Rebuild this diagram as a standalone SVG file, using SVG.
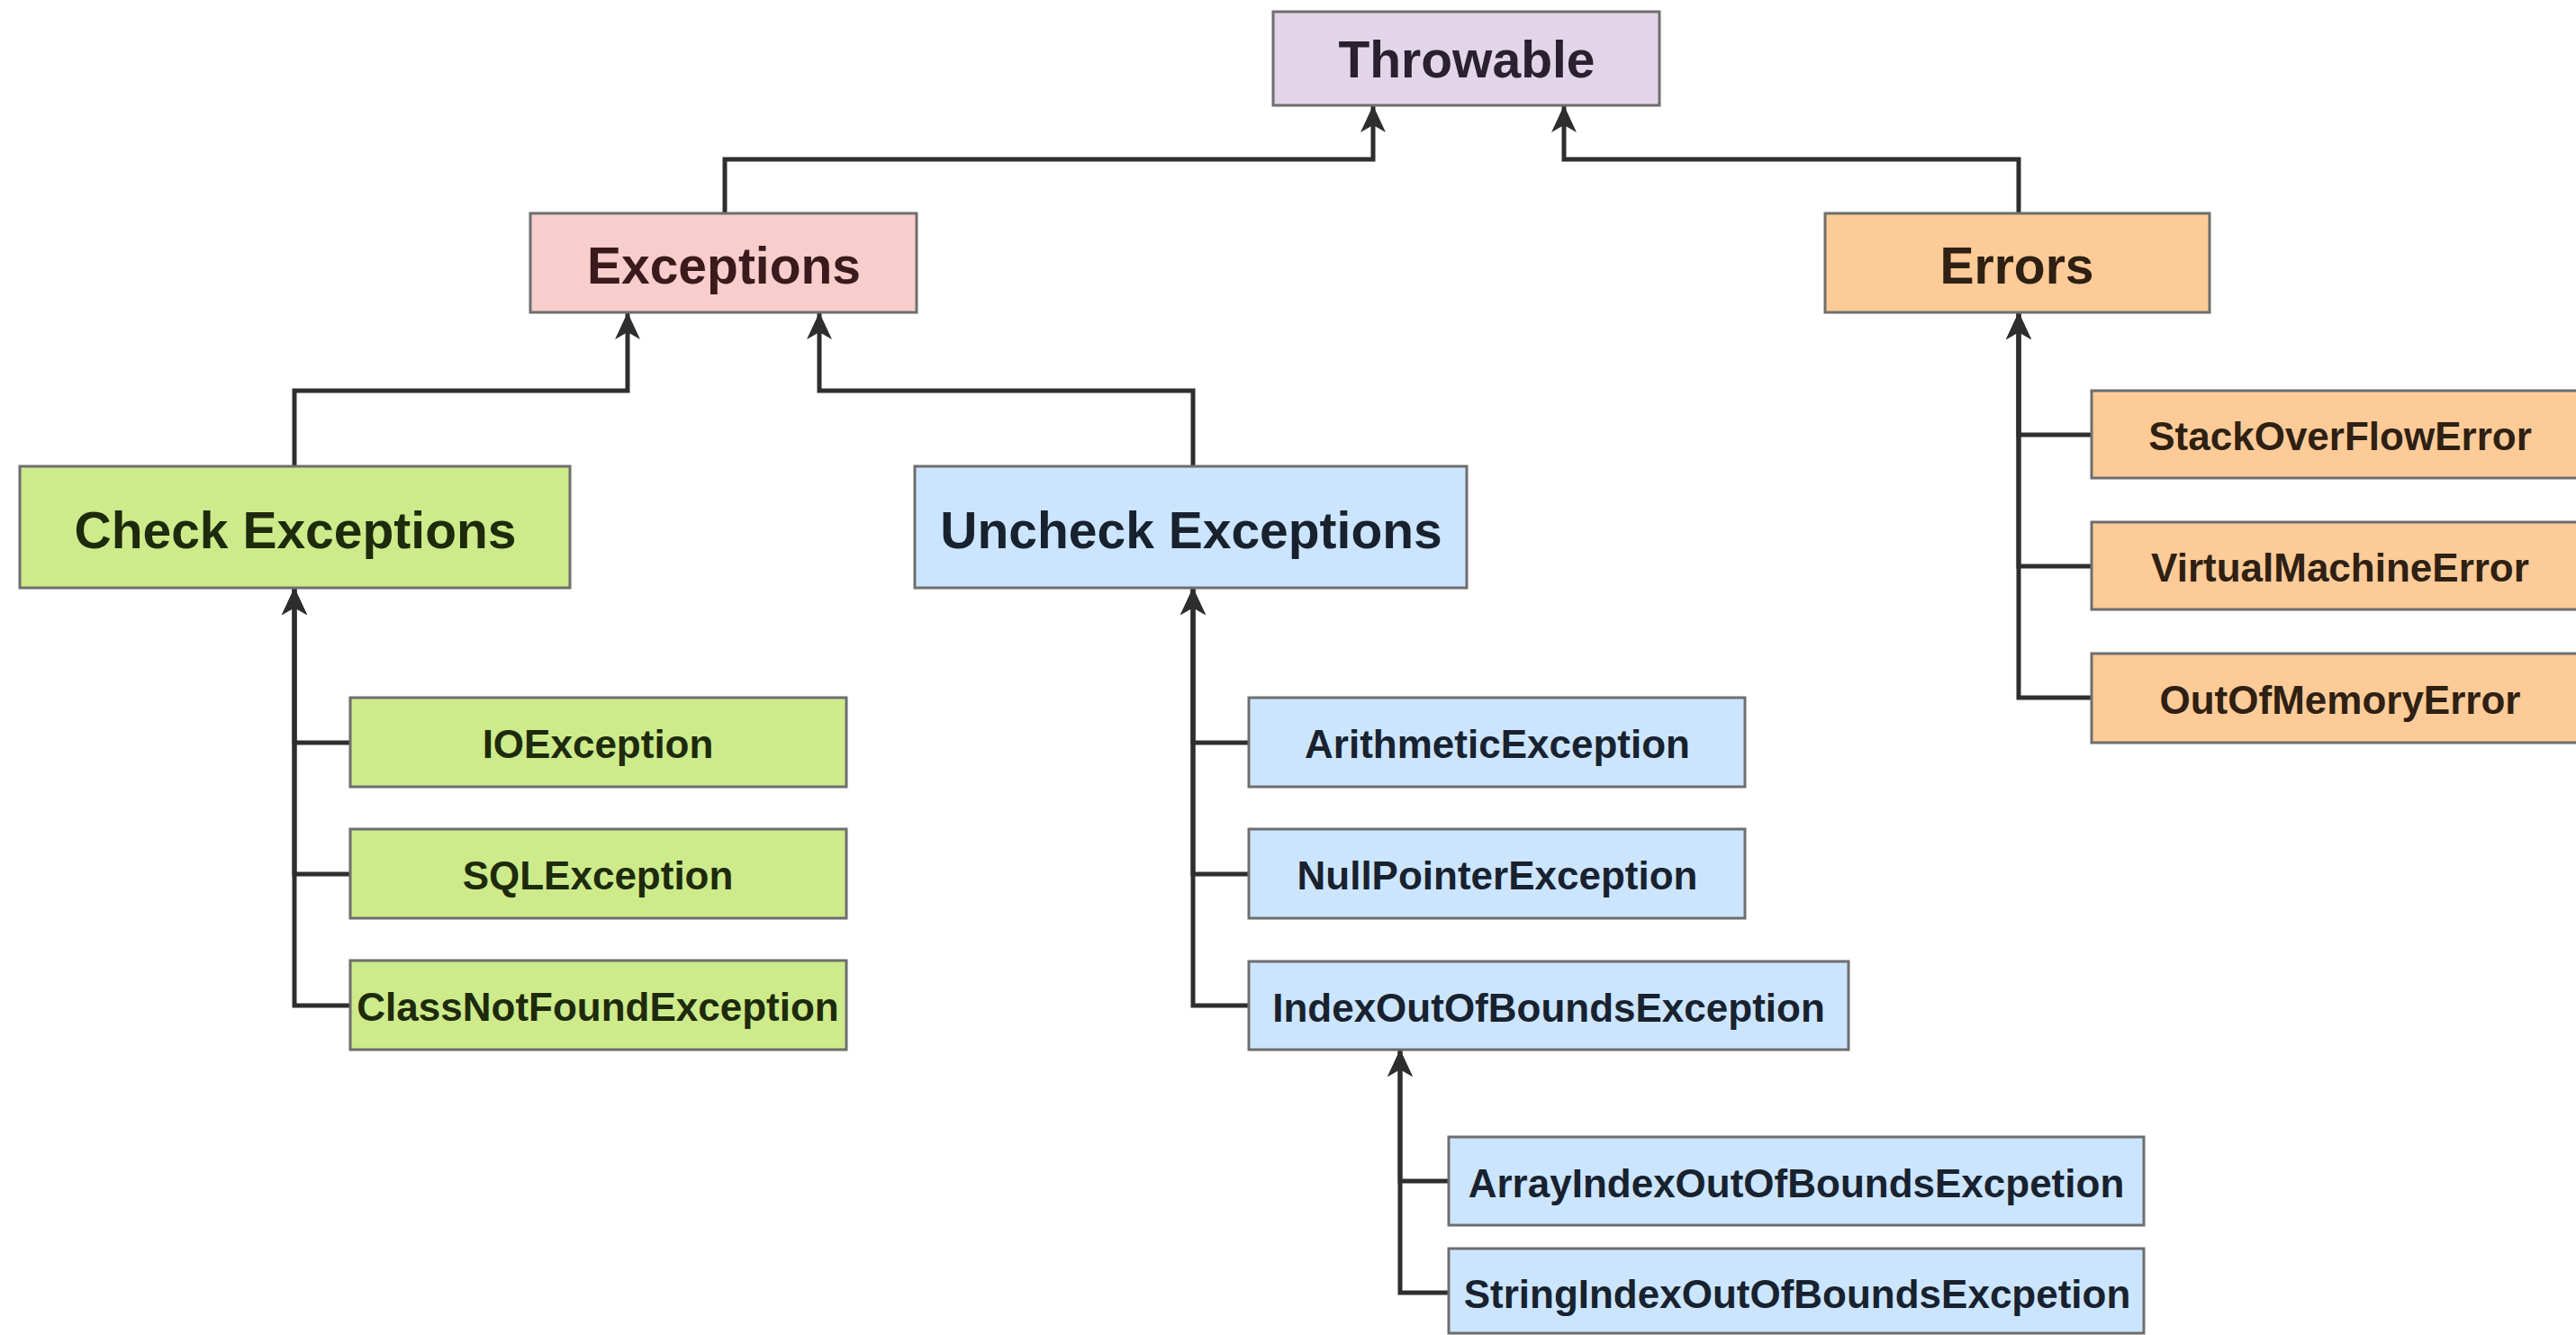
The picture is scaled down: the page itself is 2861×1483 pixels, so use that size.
<svg xmlns="http://www.w3.org/2000/svg" width="2861" height="1483" viewBox="0 0 2861 1483">
<style>
  .box { stroke: #6e6e6e; stroke-width: 3; }
  .purple { fill: #e1d5e7; }
  .red { fill: #f8cecc; }
  .orange { fill: #fccb98; }
  .green { fill: #cdeb8b; }
  .blue { fill: #cce5ff; }
  text { font-family: "Liberation Sans", Arial, sans-serif; font-weight: bold; text-anchor: middle; }
  .big { font-size: 57px; }
  .small { font-size: 44px; }
  .tp { fill: #2a2030; }
  .tr { fill: #3a1a1c; }
  .to { fill: #2e2012; }
  .tg { fill: #1e2a0c; }
  .tb { fill: #18222f; }
  .conn { fill: none; stroke: #2e2e2e; stroke-width: 5; stroke-linejoin: miter; }
</style>
<defs>
  <marker id="arrow" markerUnits="userSpaceOnUse" viewBox="0 0 30 28" refX="30" refY="14" markerWidth="30" markerHeight="28" orient="auto">
    <path d="M0,0 L30,14 L0,28 L8,14 Z" fill="#2e2e2e"/>
  </marker>
</defs>
<rect width="2861" height="1483" fill="#ffffff"/>

<g id="connectors">
  <path class="conn" d="M805,237 V177 H1525 V117" marker-end="url(#arrow)"/>
  <path class="conn" d="M2242,237 V177 H1737 V117" marker-end="url(#arrow)"/>
  <path class="conn" d="M327,518 V434 H697 V347" marker-end="url(#arrow)"/>
  <path class="conn" d="M1325,518 V434 H910 V347" marker-end="url(#arrow)"/>
  <path class="conn" d="M389,825 H327 V653" marker-end="url(#arrow)"/>
  <path class="conn" d="M389,971 H327 V653" marker-end="url(#arrow)"/>
  <path class="conn" d="M389,1117 H327 V653" marker-end="url(#arrow)"/>
  <path class="conn" d="M1387,825 H1325 V653" marker-end="url(#arrow)"/>
  <path class="conn" d="M1387,971 H1325 V653" marker-end="url(#arrow)"/>
  <path class="conn" d="M1387,1117 H1325 V653" marker-end="url(#arrow)"/>
  <path class="conn" d="M1609,1312 H1555 V1166" marker-end="url(#arrow)"/>
  <path class="conn" d="M1609,1436 H1555 V1166" marker-end="url(#arrow)"/>
  <path class="conn" d="M2323,483 H2242 V347" marker-end="url(#arrow)"/>
  <path class="conn" d="M2323,629 H2242 V347" marker-end="url(#arrow)"/>
  <path class="conn" d="M2323,775 H2242 V347" marker-end="url(#arrow)"/>
</g>

<g id="throwable">
  <rect class="box purple" x="1414" y="13" width="429" height="104"/>
  <text class="big tp" x="1629" y="86">Throwable</text>
</g>
<g id="exceptions">
  <rect class="box red" x="589" y="237" width="429" height="110"/>
  <text class="big tr" x="804" y="315">Exceptions</text>
</g>
<g id="errors">
  <rect class="box orange" x="2027" y="237" width="427" height="110"/>
  <text class="big to" x="2240" y="315">Errors</text>
</g>
<g id="check-exceptions">
  <rect class="box green" x="22" y="518" width="611" height="135"/>
  <text class="big tg" x="328" y="609">Check Exceptions</text>
</g>
<g id="uncheck-exceptions">
  <rect class="box blue" x="1016" y="518" width="613" height="135"/>
  <text class="big tb" x="1323" y="609">Uncheck Exceptions</text>
</g>
<g id="ioexception">
  <rect class="box green" x="389" y="775" width="551" height="99"/>
  <text class="small tg" x="664" y="842">IOException</text>
</g>
<g id="sqlexception">
  <rect class="box green" x="389" y="921" width="551" height="99"/>
  <text class="small tg" x="664" y="988">SQLException</text>
</g>
<g id="classnotfoundexception">
  <rect class="box green" x="389" y="1067" width="551" height="99"/>
  <text class="small tg" x="664" y="1134">ClassNotFoundException</text>
</g>
<g id="arithmeticexception">
  <rect class="box blue" x="1387" y="775" width="551" height="99"/>
  <text class="small tb" x="1663" y="842">ArithmeticException</text>
</g>
<g id="nullpointerexception">
  <rect class="box blue" x="1387" y="921" width="551" height="99"/>
  <text class="small tb" x="1663" y="988">NullPointerException</text>
</g>
<g id="indexoutofboundsexception">
  <rect class="box blue" x="1387" y="1068" width="666" height="98"/>
  <text class="small tb" x="1720" y="1135">IndexOutOfBoundsException</text>
</g>
<g id="arrayindexoutofboundsexcpetion">
  <rect class="box blue" x="1609" y="1263" width="772" height="98"/>
  <text class="small tb" x="1995" y="1330">ArrayIndexOutOfBoundsExcpetion</text>
</g>
<g id="stringindexoutofboundsexcpetion">
  <rect class="box blue" x="1609" y="1387" width="772" height="94"/>
  <text class="small tb" x="1996" y="1453">StringIndexOutOfBoundsExcpetion</text>
</g>
<g id="stackoverflowerror">
  <rect class="box orange" x="2323" y="434" width="560" height="97"/>
  <text class="small to" x="2599" y="500">StackOverFlowError</text>
</g>
<g id="virtualmachineerror">
  <rect class="box orange" x="2323" y="580" width="560" height="97"/>
  <text class="small to" x="2599" y="646">VirtualMachineError</text>
</g>
<g id="outofmemoryerror">
  <rect class="box orange" x="2323" y="726" width="560" height="99"/>
  <text class="small to" x="2599" y="793">OutOfMemoryError</text>
</g>
</svg>
